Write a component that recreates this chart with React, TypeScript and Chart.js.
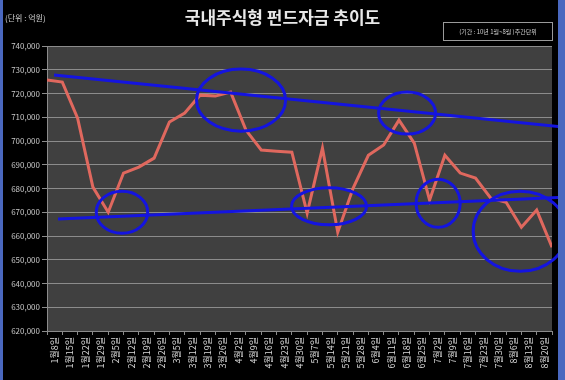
import React, { useEffect, useRef } from "react";
import { Chart, registerables } from "chart.js";

Chart.register(...registerables);

const categories = [
  "1월8일", "1월15일", "1월22일", "1월29일",
  "2월5일", "2월12일", "2월19일", "2월26일",
  "3월5일", "3월12일", "3월19일", "3월26일",
  "4월2일", "4월9일", "4월16일", "4월23일", "4월30일",
  "5월7일", "5월14일", "5월21일", "5월28일",
  "6월4일", "6월11일", "6월18일", "6월25일",
  "7월2일", "7월9일", "7월16일", "7월23일", "7월30일",
  "8월6일", "8월13일", "8월20일",
];

// weekly fund balance (억원)
const fundValues = [
  725700, 724800, 709600, 680600, 670000, 686500, 689000, 692800, 708000,
  711800, 719300, 718900, 720600, 704600, 696200, 695700, 695300, 669600,
  697000, 661600, 680100, 694000, 698300, 708800, 699100, 675100, 694000,
  686500, 684400, 675900, 674200, 663700, 670900, 655300,
];

// hand-drawn trend lines (x in point index units)
const upperTrendX = [0.46, 33.6];
const upperTrendY = [727800, 706000];
const lowerTrendX = [0.72, 33.6];
const lowerTrendY = [667200, 676300];

// hand-drawn circles: centre (index, value), radii (index units, value units)
const circleX = [4.9, 12.68, 23.53, 18.43, 25.56, 30.92];
const circleY = [670000, 717200, 711750, 672550, 673800, 662000];
const circleRX = [1.68, 2.91, 1.86, 2.45, 1.44, 3.07];
const circleRY = [8850, 13070, 8850, 7800, 10120, 16860];

const yMin = 620000;
const yMax = 740000;
const yStep = 10000;

const TITLE = "국내주식형 펀드자금 추이도";
const UNIT = "(단위 : 억원)";
const PERIOD = "(기간 : 10년 1월~8월 )주간단위";

const BLUE = "#1414e0";
const RED = "#e0685e";
const FONT = "'Noto Sans CJK KR', 'Noto Sans', sans-serif";

const plotBg = {
  id: "plotBg",
  beforeDraw(chart: any) {
    const { ctx, chartArea } = chart;
    ctx.save();
    ctx.fillStyle = "#404040";
    ctx.fillRect(chartArea.left, chartArea.top, chartArea.right - chartArea.left, chartArea.bottom - chartArea.top);
    ctx.restore();
  },
};

const circles = {
  id: "circles",
  afterDatasetsDraw(chart: any) {
    const { ctx } = chart;
    const xs = chart.scales.x2;
    const ys = chart.scales.y;
    ctx.save();
    ctx.strokeStyle = BLUE;
    ctx.lineWidth = 3;
    for (let i = 0; i < circleX.length; i++) {
      const cx = xs.getPixelForValue(circleX[i]);
      const cy = ys.getPixelForValue(circleY[i]);
      const rx = xs.getPixelForValue(circleX[i] + circleRX[i]) - cx;
      const ry = cy - ys.getPixelForValue(circleY[i] + circleRY[i]);
      ctx.beginPath();
      ctx.ellipse(cx, cy, Math.abs(rx), Math.abs(ry), 0, 0, Math.PI * 2);
      ctx.stroke();
    }
    ctx.restore();
  },
};

export default function App() {
  const ref = useRef<HTMLCanvasElement>(null);

  useEffect(() => {
    document.body.style.margin = "0";
    const canvas = ref.current;
    if (!canvas) return;
    const chart = new Chart(canvas, {
      type: "line",
      data: {
        datasets: [
          {
            data: upperTrendX.map((x, i) => ({ x, y: upperTrendY[i] })),
            xAxisID: "x2",
            borderColor: BLUE,
            borderWidth: 3,
            pointRadius: 0,
            clip: false as any,
          },
          {
            data: lowerTrendX.map((x, i) => ({ x, y: lowerTrendY[i] })),
            xAxisID: "x2",
            borderColor: BLUE,
            borderWidth: 3,
            pointRadius: 0,
            clip: false as any,
          },
          {
            data: fundValues.map((v, i) => ({ x: i, y: v })),
            xAxisID: "x2",
            borderColor: RED,
            borderWidth: 3,
            pointRadius: 0,
            tension: 0,
          },
        ],
      },
      options: {
        animation: false,
        responsive: false,
        maintainAspectRatio: false,
        layout: { padding: { top: 46, right: 6, left: 0, bottom: 0 } },
        plugins: { legend: { display: false }, tooltip: { enabled: false }, title: { display: false } },
        scales: {
          x: {
            type: "category",
            labels: categories,
            offset: true,
            position: "bottom",
            grid: {
              display: true,
              offset: true,
              drawOnChartArea: false,
              drawTicks: true,
              tickLength: 4,
              color: "#8a8a8a",
            },
            border: { display: true, color: "#8a8a8a" },
            ticks: {
              autoSkip: false,
              maxRotation: 90,
              minRotation: 90,
              padding: 2,
              color: "#dadada",
              font: { size: 9, family: FONT },
            },
            afterFit(scale: any) {
              scale.height = 49;
            },
          },
          x2: {
            type: "linear",
            display: false,
            min: 0,
            max: fundValues.length - 1,
          },
          y: {
            min: yMin,
            max: yMax,
            ticks: {
              stepSize: yStep,
              color: "#c8c8c8",
              padding: 2,
              font: { size: 8, family: FONT },
              callback: (v: any) => Number(v).toLocaleString("en-US"),
            },
            grid: { color: "#8c8c8c", lineWidth: 1, tickLength: 5 },
            border: { display: true, color: "#8c8c8c" },
            afterFit(scale: any) {
              scale.width = 47;
            },
          },
        },
      },
      plugins: [plotBg, circles],
    } as any);
    return () => chart.destroy();
  }, []);

  return (
    <div style={{ position: "relative", width: 565, height: 380, background: "#4a68bf", overflow: "hidden" }}>
      <div style={{ position: "absolute", left: 3, top: 0, width: 555, height: 380, background: "#000" }} />
      <canvas ref={ref} width={558} height={380} style={{ position: "absolute", left: 0, top: 0, width: 558, height: 380 }} />
      <div
        style={{
          position: "absolute", left: 0, width: 565, top: 5, textAlign: "center",
          fontFamily: FONT, fontSize: 17, fontWeight: 700, color: "#e8e8e8", lineHeight: "24px",
        }}
      >
        {TITLE}
      </div>
      <div
        style={{
          position: "absolute", left: 5, top: 12, fontFamily: FONT, fontSize: 8,
          color: "#d0d0d0", lineHeight: "12px", whiteSpace: "nowrap",
        }}
      >
        {UNIT}
      </div>
      <div
        style={{
          position: "absolute", left: 443, top: 22, width: 108, height: 17, border: "1px solid #9a9a9a",
          fontFamily: FONT, fontSize: 6, color: "#d0d0d0", lineHeight: "17px", textAlign: "center",
          whiteSpace: "nowrap", boxSizing: "content-box",
        }}
      >
        {PERIOD}
      </div>
    </div>
  );
}
